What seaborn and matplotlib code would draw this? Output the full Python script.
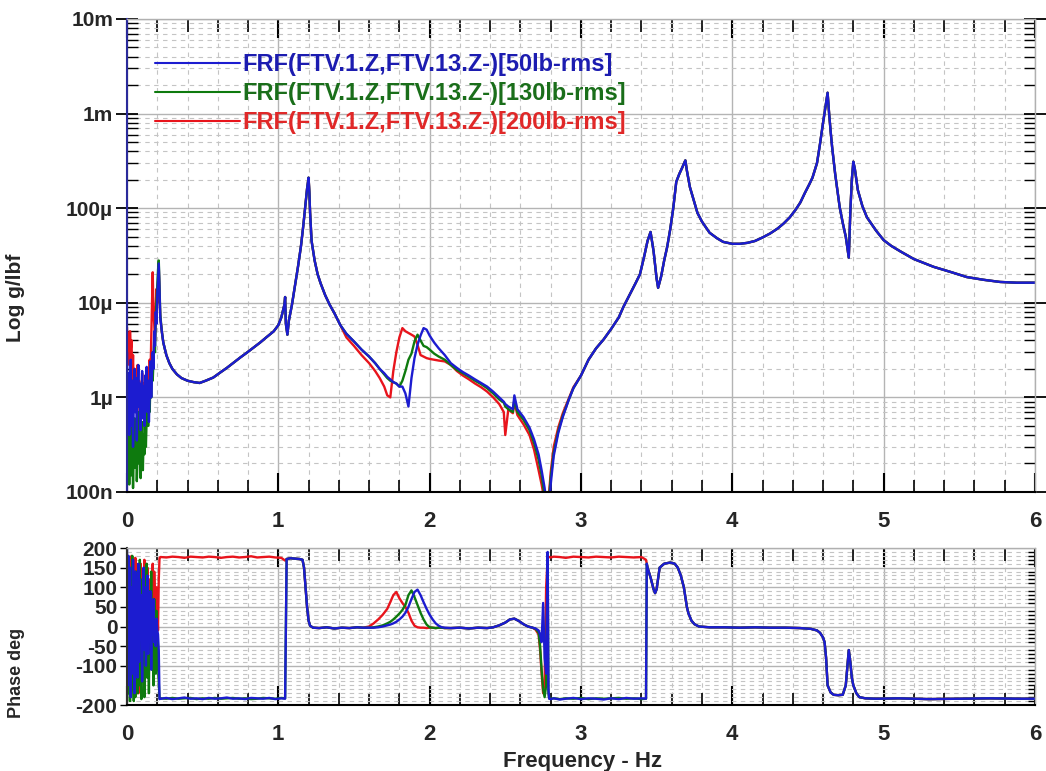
import numpy as np
import matplotlib
matplotlib.use("Agg")
import matplotlib.pyplot as plt
import seaborn as sns
from matplotlib.ticker import FixedLocator, MultipleLocator, LogLocator, NullFormatter
from matplotlib.lines import Line2D

sns.set_theme(style="white")
plt.rcParams['font.family'] = ['Liberation Sans', 'DejaVu Sans']
plt.rcParams['font.weight'] = 'bold'
plt.rcParams['axes.unicode_minus'] = False

# ---------------- data (magnitude in micro g/lbf) ----------------
labels = ["FRF(FTV.1.Z,FTV.13.Z-)[50lb-rms]",
          "FRF(FTV.1.Z,FTV.13.Z-)[130lb-rms]",
          "FRF(FTV.1.Z,FTV.13.Z-)[200lb-rms]"]

freq_low = [0.000, 0.005, 0.010, 0.015, 0.020, 0.025, 0.030, 0.035, 0.040, 0.045,
            0.050, 0.055, 0.060, 0.065, 0.070, 0.075, 0.080, 0.085, 0.090, 0.095,
            0.100, 0.105, 0.110, 0.115, 0.120, 0.125, 0.130, 0.135, 0.140, 0.145,
            0.150, 0.155, 0.160, 0.165, 0.170, 0.175, 0.180, 0.185, 0.190, 0.195,
            0.200, 0.205, 0.210, 0.215, 0.220]
mag_low_50 = [3.0, 0.6, 1.8, 0.4, 1.2, 2.5, 0.5, 1.5, 0.3, 0.9, 2.0, 0.7, 1.6, 0.35, 1.1,
              2.2, 0.8, 1.4, 0.45, 1.0, 1.9, 0.6, 1.3, 0.5, 1.7, 0.9, 2.1, 0.7, 1.5, 0.55,
              1.2, 2.4, 1.0, 1.8, 3.0, 2.0, 5.0, 3.5, 8.0, 6.0, 12.0, 18.0, 26.0, 14.0, 7.0]
mag_low_130 = [1.0, 0.2, 0.5, 0.12, 0.35, 0.8, 0.15, 0.4, 0.11, 0.3, 0.6, 0.18, 0.45, 0.13, 0.25,
               0.7, 0.2, 0.5, 0.14, 0.3, 0.55, 0.17, 0.4, 0.25, 0.8, 0.3, 0.6, 1.0, 0.5, 1.2,
               0.7, 1.5, 1.0, 2.0, 1.5, 2.5, 4.0, 3.0, 7.0, 10.0, 15.0, 22.0, 28.0, 15.0, 7.5]
mag_low_200 = [5.5, 3.0, 4.8, 2.2, 5.0, 3.2, 4.0, 1.5, 2.8, 1.0, 2.0, 0.8, 1.6, 1.1, 2.2,
               0.9, 1.5, 0.7, 1.3, 0.6, 1.8, 0.9, 1.4, 0.5, 1.2, 0.8, 1.9, 1.0, 2.0, 1.2,
               2.5, 1.5, 4.0, 9.0, 21.0, 8.0, 6.0, 4.0, 9.0, 14.0, 10.0, 16.0, 24.0, 12.0, 7.0]

freq_a = [0.23, 0.24, 0.26, 0.28, 0.30, 0.33, 0.36, 0.40, 0.44, 0.48, 0.52, 0.57, 0.62, 0.66,
          0.70, 0.75, 0.79, 0.84, 0.88, 0.92, 0.97, 1.00, 1.02, 1.04, 1.045, 1.05, 1.06, 1.07,
          1.09, 1.11, 1.13, 1.15, 1.165, 1.18, 1.19, 1.20, 1.205, 1.21, 1.22, 1.24, 1.26, 1.28,
          1.31, 1.34, 1.37, 1.41]
mag_a = [5.0, 3.8, 2.8, 2.3, 2.0, 1.75, 1.6, 1.5, 1.45, 1.42, 1.5, 1.62, 1.85, 2.05,
         2.3, 2.65, 2.95, 3.4, 3.8, 4.3, 5.0, 5.8, 7.0, 9.5, 11.5, 6.0, 4.6, 6.5,
         9.5, 15, 24, 40, 65, 110, 160, 210, 150, 90, 45, 28, 20, 16,
         12, 9.5, 7.8, 5.8]

freq_mid = [1.45, 1.50, 1.55, 1.60, 1.64, 1.67, 1.70, 1.72, 1.74, 1.76, 1.78, 1.80, 1.82, 1.84,
            1.86, 1.88, 1.90, 1.92, 1.94, 1.96, 1.98, 2.00, 2.03, 2.06, 2.10, 2.14, 2.18, 2.22,
            2.26, 2.30, 2.34, 2.38, 2.42, 2.46, 2.49, 2.50, 2.52, 2.55, 2.56, 2.58, 2.62, 2.66,
            2.69, 2.72, 2.74, 2.76, 2.77, 2.78, 2.79, 2.80, 2.82, 2.85, 2.88, 2.92, 2.95]
mag_mid_50 = [4.7, 3.9, 3.2, 2.7, 2.3, 2.0, 1.8, 1.65, 1.55, 1.45, 1.4, 1.3, 1.3, 1.1,
              0.8, 1.6, 2.6, 3.6, 4.5, 5.4, 5.2, 4.5, 3.8, 3.3, 2.8, 2.3, 2.05, 1.85,
              1.7, 1.55, 1.42, 1.3, 1.15, 1.0, 0.9, 0.85, 0.8, 0.75, 1.05, 0.75, 0.62, 0.48,
              0.36, 0.25, 0.17, 0.11, 0.08, 0.06, 0.07, 0.12, 0.24, 0.42, 0.62, 0.95, 1.25]
mag_mid_130 = [4.7, 3.9, 3.2, 2.7, 2.3, 2.0, 1.75, 1.6, 1.5, 1.45, 1.4, 1.3, 1.5, 1.9,
               2.5, 2.9, 3.9, 4.6, 4.0, 3.5, 3.4, 3.2, 2.9, 2.7, 2.5, 2.2, 1.95, 1.8,
               1.65, 1.5, 1.38, 1.25, 1.1, 0.95, 0.88, 0.8, 0.75, 0.7, 0.95, 0.7, 0.58, 0.45,
               0.33, 0.22, 0.15, 0.09, 0.06, 0.07, 0.09, 0.14, 0.26, 0.44, 0.64, 0.95, 1.25]
mag_mid_200 = [4.3, 3.5, 2.8, 2.3, 1.9, 1.6, 1.3, 1.05, 1.0, 1.9, 3.0, 4.3, 5.4, 5.0,
               4.8, 4.6, 4.4, 3.6, 2.8, 2.7, 2.6, 2.55, 2.5, 2.45, 2.4, 2.2, 1.9, 1.7,
               1.55, 1.4, 1.28, 1.15, 1.0, 0.85, 0.7, 0.4, 0.75, 0.68, 0.9, 0.65, 0.52, 0.4,
               0.28, 0.17, 0.12, 0.08, 0.06, 0.08, 0.1, 0.16, 0.3, 0.48, 0.68, 0.98, 1.28]

freq_c = [3.00, 3.05, 3.10, 3.15, 3.20, 3.25, 3.28, 3.32, 3.36, 3.39, 3.42, 3.44, 3.46, 3.48,
          3.50, 3.51, 3.53, 3.55, 3.57, 3.59, 3.61, 3.63, 3.65, 3.67, 3.69, 3.70, 3.72, 3.75,
          3.77, 3.80, 3.85, 3.90, 3.94, 4.00, 4.05, 4.10, 4.15, 4.20, 4.25, 4.30, 4.34, 4.38,
          4.42, 4.45, 4.48, 4.51, 4.53, 4.56, 4.58, 4.60, 4.62, 4.63, 4.64, 4.65, 4.66, 4.68,
          4.71, 4.73, 4.75, 4.77, 4.78, 4.79, 4.80, 4.81, 4.83, 4.86, 4.89, 4.95, 5.00, 5.05,
          5.11, 5.20, 5.33, 5.45, 5.55, 5.66, 5.77, 5.88, 6.00]
mag_c = [1.7, 2.5, 3.3, 4.1, 5.3, 7.0, 9.0, 12, 16, 20, 32, 45, 56, 35,
         18, 14.4, 19, 28, 39, 60, 100, 190, 230, 270, 320, 250, 167, 115,
         89, 72, 55, 48, 44, 42, 42, 43, 45, 49, 54, 61, 69, 80,
         97, 115, 145, 180, 210, 300, 480, 800, 1300, 1660, 1000, 650, 440, 230,
         102, 70, 50, 30, 90, 200, 310, 260, 155, 105, 80, 58, 46, 40,
         35, 29, 24, 21, 18.7, 17.5, 16.6, 16.3, 16.3]

# ---------------- phase data (deg) ----------------
ph_low_50 = [200, -150, 180, -60, 150, -180, 100, -120, 170, 20, -170, 140, -40, 60, -130,
             160, -90, 120, -20, 80, -140, 40, 150, -60, 100, -100, 20, 130, -70, 60,
             -30, 90, -110, 40, -20, 70, -40, 10, -50, 20, -10, -20, -60, -185, -184]
ph_low_130 = [-190, 100, -170, 150, -190, 50, -160, 180, -120, -190, 90, -180, 140, -100, -170,
              60, -150, 170, -60, -185, 120, -140, 30, -180, 110, -90, 160, -130, 50, -170,
              90, -60, 140, -110, 20, -150, 70, -30, -120, 40, -60, -100, -140, -183, -184]
ph_low_200 = [150, 170, -100, 120, 60, -150, 180, -40, 160, 30, -120, 175, 90, -60, 140,
              -170, 110, 0, 160, -80, 130, 50, -130, 170, 20, 100, -90, 150, -20, 60,
              120, -50, 90, 10, 160, -120, 140, 40, -80, 100, 60, -10, 120, 175, 177]

ph_freq_1 = [0.225, 0.26, 0.30, 0.34, 0.38, 0.42, 0.46, 0.50, 0.54, 0.58, 0.62, 0.66, 0.70,
             0.74, 0.78, 0.82, 0.86, 0.90, 0.94, 0.98, 1.02, 1.045]
ph_1_50 = [-184, -182, -185, -183, -181, -184, -183, -185, -182, -184, -183, -181, -184,
           -183, -185, -182, -183, -184, -182, -185, -183, -184]
ph_1_130 = [-183, -184, -182, -184, -183, -182, -185, -183, -184, -182, -184, -183, -182,
            -184, -183, -185, -184, -182, -183, -184, -182, -183]
ph_1_200 = [177, 176, 178, 177, 175, 178, 177, 176, 178, 177, 175, 177, 178,
            176, 177, 179, 176, 177, 178, 176, 175, 168]

ph_freq_2 = [1.055, 1.08, 1.11, 1.14, 1.16, 1.17, 1.18, 1.19, 1.20, 1.21, 1.23, 1.27, 1.32,
             1.37, 1.42, 1.47, 1.52, 1.56]
ph_2 = [172, 174, 173, 172, 170, 150, 100, 50, 15, 2, -3, -4, -2, -5, -3, -4, -2, -3]

ph_freq_mid = [1.60, 1.63, 1.66, 1.69, 1.72, 1.74, 1.76, 1.78, 1.80, 1.82, 1.84, 1.86, 1.88,
               1.90, 1.92, 1.94, 1.96, 1.98, 2.00, 2.02, 2.04, 2.06, 2.08, 2.10]
ph_mid_50 = [-3, -3, -2, 0, 3, 5, 8, 12, 18, 25, 35, 50, 70, 88, 94, 80, 62, 45, 30, 18, 8, 2, -2, -3]
ph_mid_130 = [-3, -2, 0, 3, 8, 12, 18, 25, 33, 42, 55, 80, 92, 75, 55, 35, 18, 5, -2, -3, -4, -3, -3, -4]
ph_mid_200 = [0, 8, 18, 30, 45, 62, 80, 88, 72, 60, 50, 35, 15, 2, -2, -3, -3, -4, -3, -3, -4, -3, -3, -4]

ph_freq_3 = [2.14, 2.20, 2.26, 2.32, 2.38, 2.42, 2.46, 2.50, 2.53, 2.56, 2.59, 2.62, 2.65, 2.68]
ph_3 = [-4, -3, -5, -3, -4, -2, 3, 10, 18, 20, 14, 6, 0, -3]

ph_freq_late = [2.70, 2.72, 2.73, 2.74, 2.75, 2.76, 2.77, 2.78, 2.785, 2.79, 2.80, 2.82, 2.86,
                2.90, 2.95, 3.00, 3.05, 3.10, 3.15, 3.20, 3.25, 3.30, 3.35, 3.40, 3.43, 3.435]
ph_late_50 = [-5, -10, -20, -40, 60, -80, -120, 190, -160, -184, -185, -183, -186,
              -184, -182, -185, -183, -184, -186, -183, -185, -182, -184, -183, -184, 160]
ph_late_130 = [-6, -15, -50, -110, -160, -180, -150, 150, -170, -183, -184, -183, -185,
               -183, -184, -182, -185, -183, -184, -183, -182, -184, -183, -185, -184, 160]
ph_late_200 = [-8, -20, -60, -120, -170, -140, 100, 176, 178, 177, 176, 178, 177,
               175, 178, 177, 176, 178, 177, 176, 178, 177, 176, 177, 170, 160]

ph_freq_end = [3.44, 3.46, 3.48, 3.49, 3.50, 3.52, 3.55, 3.59, 3.62, 3.64, 3.66, 3.68, 3.69,
               3.70, 3.71, 3.73, 3.75, 3.78, 3.85, 3.95, 4.05, 4.15, 4.25, 4.35, 4.45, 4.52,
               4.56, 4.58, 4.60, 4.61, 4.62, 4.63, 4.65, 4.67, 4.70, 4.73, 4.75, 4.76, 4.77,
               4.78, 4.79, 4.80, 4.82, 4.84, 4.88, 4.95, 5.10, 5.30, 5.50, 5.70, 5.90, 6.00]
ph_end = [150, 125, 95, 85, 95, 150, 160, 163, 160, 150, 130, 100, 75,
          50, 34, 15, 6, 0, -2, -2, -3, -2, -3, -3, -4, -6,
          -10, -16, -28, -40, -80, -150, -168, -174, -175, -174, -150, -106, -60,
          -90, -130, -150, -170, -180, -183, -184, -183, -185, -184, -183, -184, -184]

colors = {"50": "#1c1cd0", "130": "#0e7a0e", "200": "#e8141c"}
text_colors = {"50": "#1c1cb0", "130": "#1a6e1a", "200": "#e02828"}

mag_series = {
    "50": np.concatenate([mag_low_50, mag_a, mag_mid_50, mag_c]),
    "130": np.concatenate([mag_low_130, mag_a, mag_mid_130, mag_c]),
    "200": np.concatenate([mag_low_200, mag_a, mag_mid_200, mag_c]),
}
mag_freq = np.concatenate([freq_low, freq_a, freq_mid, freq_c])

ph_series = {
    "50": np.concatenate([ph_low_50, ph_1_50, ph_2, ph_mid_50, ph_3, ph_late_50, ph_end]),
    "130": np.concatenate([ph_low_130, ph_1_130, ph_2, ph_mid_130, ph_3, ph_late_130, ph_end]),
    "200": np.concatenate([ph_low_200, ph_1_200, ph_2, ph_mid_200, ph_3, ph_late_200, ph_end]),
}
ph_freq = np.concatenate([freq_low, ph_freq_1, ph_freq_2, ph_freq_mid, ph_freq_3,
                          ph_freq_late, ph_freq_end])

# ---------------- figure ----------------
fig = plt.figure(figsize=(10.46, 7.71), dpi=100)
fig.patch.set_facecolor("white")
ax1 = fig.add_axes([0.1214, 0.3619, 0.868, 0.6135])
ax2 = fig.add_axes([0.1214, 0.0856, 0.868, 0.2036])

order = ["200", "130", "50"]
for key in order:
    sns.lineplot(x=mag_freq, y=mag_series[key] * 1e-6, ax=ax1, color=colors[key],
                 lw=1.7, sort=False, estimator=None, legend=False)
    sns.lineplot(x=ph_freq, y=ph_series[key], ax=ax2, color=colors[key],
                 lw=1.7, sort=False, estimator=None, legend=False)

grid_major = dict(color="#b4b4b4", lw=1.0, ls="-")
grid_minor = dict(color="#c4c4c4", lw=0.8, ls=(0, (4, 4)))

# top axes
ax1.set_yscale("log")
ax1.set_xlim(0, 6)
ax1.set_ylim(1e-7, 1e-2)
ax1.xaxis.set_major_locator(MultipleLocator(1))
ax1.xaxis.set_minor_locator(MultipleLocator(0.2))
ax1.yaxis.set_major_locator(FixedLocator([1e-7, 1e-6, 1e-5, 1e-4, 1e-3, 1e-2]))
ax1.set_yticklabels(["100n", "1\u00b5", "10\u00b5", "100\u00b5", "1m", "10m"])
ax1.yaxis.set_minor_locator(LogLocator(base=10, subs=np.arange(2, 10)))
ax1.yaxis.set_minor_formatter(NullFormatter())
ax1.grid(True, which="major", **grid_major)
ax1.grid(True, which="minor", **grid_minor)
ax1.tick_params(axis="x", which="major", direction="in", length=14, width=1.5,
                top=True, bottom=True, labelsize=16, pad=14, color="black")
ax1.tick_params(axis="x", which="minor", direction="in", length=9, width=1.2,
                top=True, bottom=True, color="black")
ax1.tick_params(axis="y", which="major", direction="inout", length=16, width=1.3,
                left=True, right=True, labelsize=15, pad=2, color="black")
ax1.tick_params(axis="y", which="minor", direction="in", length=8, width=1.0,
                left=True, right=True, color="black")
for lab in ax1.get_xticklabels() + ax1.get_yticklabels():
    lab.set_fontweight("bold")
ax1.set_ylabel("Log g/lbf", fontsize=15, fontweight="bold")
ax1.yaxis.set_label_coords(-0.112, 0.41)
ax1.set_xlabel("")

# bottom axes
ax2.set_xlim(0, 6)
ax2.set_ylim(-200, 200)
ax2.xaxis.set_major_locator(MultipleLocator(1))
ax2.xaxis.set_minor_locator(MultipleLocator(0.2))
ax2.yaxis.set_major_locator(FixedLocator([-200, -100, -50, 0, 50, 100, 150, 200]))
ax2.yaxis.set_minor_locator(MultipleLocator(10))
ax2.grid(True, which="major", **grid_major)
ax2.grid(True, which="minor", **grid_minor)
ax2.tick_params(axis="x", which="major", direction="in", length=14, width=1.5,
                top=True, bottom=True, labelsize=16, pad=14, color="black")
ax2.tick_params(axis="x", which="minor", direction="in", length=9, width=1.2,
                top=True, bottom=True, color="black")
ax2.tick_params(axis="y", which="major", direction="out", length=5, width=1.0,
                left=True, right=False, labelsize=15, pad=2, color="black")
ax2.tick_params(axis="y", which="minor", direction="in", length=5, width=1.0,
                left=False, right=True, color="black")
for lab in ax2.get_xticklabels() + ax2.get_yticklabels():
    lab.set_fontweight("bold")
ax2.set_ylabel("Phase deg", fontsize=13, fontweight="bold")
ax2.yaxis.set_label_coords(-0.112, 0.204)
ax2.set_xlabel("Frequency - Hz", fontsize=16, fontweight="bold")
ax2.xaxis.set_label_coords(0.502, -0.29)

for ax, left_col in ((ax1, "#2a2a9a"), (ax2, "#303030")):
    ax.set_facecolor("white")
    ax.spines["left"].set_color(left_col)
    ax.spines["left"].set_linewidth(1.5)
    ax.spines["bottom"].set_color("black")
    ax.spines["bottom"].set_linewidth(1.5)
    for s in ("top", "right"):
        ax.spines[s].set_color("#b0b0b0")
        ax.spines[s].set_linewidth(1.0)
    ax.set_axisbelow(True)

# legend
handles = [Line2D([0], [0], color=colors[k], lw=1.5) for k in ["50", "130", "200"]]
leg = ax1.legend(handles, labels, loc="upper left", bbox_to_anchor=(0.0308, 0.928),
                 frameon=False, borderpad=0, borderaxespad=0, handlelength=3.6,
                 handletextpad=0.12, labelspacing=0.26,
                 prop={"weight": "bold", "size": 17})
for t, k in zip(leg.get_texts(), ["50", "130", "200"]):
    t.set_color(text_colors[k])

fig.savefig("out.png", dpi=100, facecolor="white")
